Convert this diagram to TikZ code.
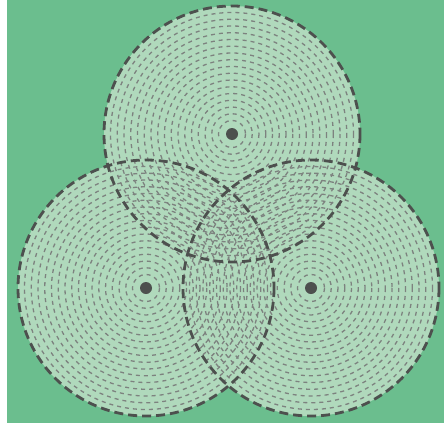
\documentclass[tikz,border=0pt]{standalone}
\usepackage{xcolor}
\definecolor{bggreen}{RGB}{107,190,142}
\definecolor{discfill}{RGB}{176,217,188}
\definecolor{ringgray}{RGB}{125,130,127}
\definecolor{edgegray}{RGB}{77,80,78}

\begin{document}
\begin{tikzpicture}[x=1pt, y=-1pt,
  disc/.style={fill=discfill},
  ring/.style={draw=ringgray, line width=1.3pt, dash pattern=on 4pt off 4pt},
  rim/.style={draw=edgegray, line width=2.8pt, dash pattern=on 9pt off 5pt},
  hub/.style={circle, fill=edgegray, inner sep=0pt, minimum size=12pt}]
\useasboundingbox (0,0) rectangle (444,423);
\fill[white] (0,0) rectangle (7,423);
\fill[bggreen] (7,0) rectangle (444,423);
\coordinate (top) at (232,134);
\coordinate (left) at (146,288);
\coordinate (right) at (311,288);
% discs first, then rings, then rims
\foreach \c in {top,left,right}
  \path[disc] (\c) circle (128);
\foreach \c in {top,left,right}
  \foreach \k in {2,...,18}
    \path[ring] (\c) circle ({6.75*\k});
\foreach \c in {top,left,right}
  \path[rim] (\c) circle (128);
\node[hub] (tophub) at (top) {};
\node[hub] (lefthub) at (left) {};
\node[hub] (righthub) at (right) {};
\end{tikzpicture}
\end{document}
